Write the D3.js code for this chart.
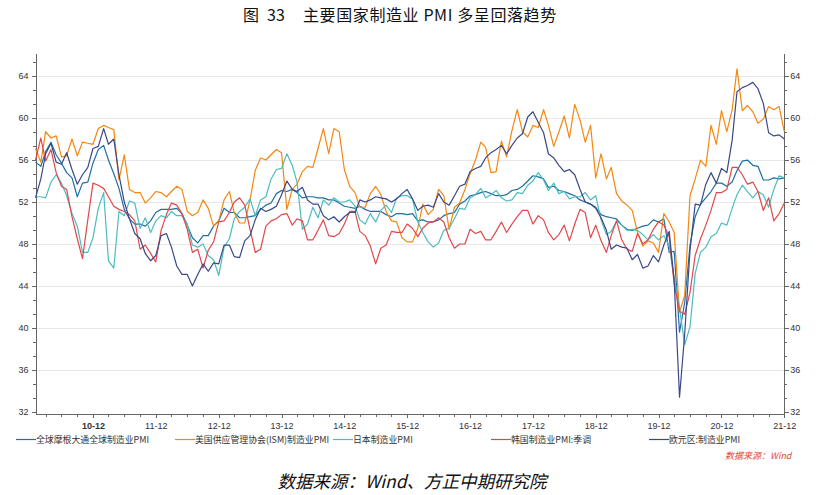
<!DOCTYPE html>
<html>
<head>
<meta charset="utf-8">
<script src="https://cdn.jsdelivr.net/npm/d3@7/dist/d3.min.js"></script>
<style>
body{margin:0;background:#fff;}
svg{display:block;font-family:"Noto Sans CJK SC","Noto Sans",sans-serif;}
.axis path,.axis line{stroke:#666;shape-rendering:crispEdges;}
.axis text{fill:#333;font-size:9px;}
</style>
</head>
<body>
<div id="chart"></div>
<script>
// 月度数据 2010-01 ~ 2021-12
var startMonth="2010-01", endMonth="2021-12";
var tickLabels=["10-12","11-12","12-12","13-12","14-12","15-12","16-12","17-12","18-12","19-12","20-12","21-12"];
var seriesNames=["全球摩根大通全球制造业PMI","美国供应管理协会(ISM)制造业PMI","日本制造业PMI","韩国制造业PMI:季调","欧元区:制造业PMI"];

var globalPMI=[
	55.8,55.4,56.8,57.7,56.5,55.7,54.8,54.3,52.5,53.8,53.9,55.7,
	57.0,57.4,56.0,54.7,53.3,51.3,50.4,49.9,49.9,49.7,50.2,51.0,
	51.3,51.3,51.3,51.4,50.9,49.8,48.6,48.1,48.8,48.8,49.7,50.2,
	51.4,51.0,51.0,50.5,50.5,50.6,50.7,51.3,51.7,51.9,52.8,53.1,
	53.0,53.2,52.9,52.4,52.5,52.5,52.4,52.4,52.2,52.2,51.9,51.6,
	51.5,51.4,51.6,51.3,51.1,51.1,51.1,50.8,50.6,50.9,50.9,50.8,
	50.9,50.2,50.3,50.1,50.1,50.3,50.7,50.9,51.0,51.8,52.1,52.6,
	52.7,52.9,53.0,52.8,52.6,52.6,52.7,53.1,53.2,53.5,54.0,54.5,
	54.4,54.2,53.4,53.5,53.1,53.0,52.8,52.6,52.2,52.0,51.8,51.5,
	50.8,50.6,50.5,50.4,49.8,49.4,49.3,49.5,49.7,49.8,50.3,50.1,
	50.4,47.2,47.3,39.6,42.4,47.9,50.6,51.8,52.4,53.0,53.8,53.8,
	53.5,53.9,55.0,55.9,56.0,55.5,55.4,54.1,54.1,54.3,54.2,54.3
];
var ismPMI=[
	57.1,55.8,58.7,58.1,58.3,56.3,56.4,58.0,56.4,57.7,57.6,57.5,
	59.0,59.3,59.1,58.9,54.1,56.5,53.2,52.9,52.9,51.9,52.4,53.0,
	52.9,52.5,53.0,53.5,53.2,51.1,50.7,51.0,52.2,51.4,49.7,50.2,
	52.2,53.0,51.0,50.0,50.0,52.2,55.0,56.2,56.0,56.5,57.0,56.7,
	51.3,53.2,53.7,54.9,55.4,55.3,57.1,59.0,56.6,59.0,58.7,55.1,
	53.5,52.9,51.5,51.5,52.8,53.5,52.7,51.1,50.2,50.1,48.6,48.2,
	48.2,49.5,51.8,50.8,51.3,53.2,52.6,49.4,51.5,51.9,53.2,54.7,
	56.0,57.7,57.2,54.8,54.9,57.8,56.3,58.8,60.8,58.7,58.2,59.3,
	59.1,60.8,59.3,57.3,58.7,60.2,58.1,61.3,59.8,57.7,59.3,54.3,
	56.6,54.2,55.3,52.8,52.1,51.7,51.2,49.1,47.8,48.3,48.1,47.2,
	50.9,50.1,49.1,41.5,43.1,52.6,54.2,56.0,55.4,59.3,57.5,60.7,
	58.7,60.8,64.7,60.7,61.2,60.6,59.5,59.9,61.1,60.8,61.1,58.7
];
var japanPMI=[
	52.5,52.5,52.4,53.9,54.6,53.8,52.6,50.9,49.7,47.2,47.2,48.6,
	51.4,52.9,46.4,45.7,51.1,50.7,52.1,51.9,49.5,50.5,49.1,50.2,
	50.7,50.5,51.1,50.7,50.7,49.9,47.9,47.7,48.0,46.9,46.5,45.0,
	47.7,48.5,50.4,51.1,51.5,52.3,50.7,52.2,52.5,54.2,55.1,55.2,
	56.6,55.5,53.9,49.4,49.9,51.5,50.5,52.2,51.7,52.4,52.0,52.0,
	52.2,51.6,50.3,49.9,50.9,50.1,51.2,51.7,51.0,52.4,52.6,52.6,
	52.3,50.1,49.1,48.2,47.7,48.1,49.3,49.5,50.4,51.4,51.3,52.4,
	52.7,53.3,52.4,52.7,53.1,52.4,52.1,52.2,52.9,52.8,53.6,54.0,
	54.8,54.1,53.1,53.8,52.8,53.0,52.3,52.5,52.5,52.9,52.2,52.6,
	50.3,48.9,49.2,50.2,49.8,49.3,49.4,49.3,48.9,48.4,48.9,48.4,
	48.8,47.8,44.8,41.9,38.4,40.1,45.2,47.2,47.7,48.7,49.0,50.0,
	49.8,51.4,52.7,53.6,53.0,52.4,53.0,52.7,51.5,53.2,54.5,54.3
];
var koreaPMI=[
	56.0,58.1,55.9,57.0,54.8,53.5,53.2,50.6,48.5,46.6,50.3,53.8,
	53.6,53.3,52.5,51.6,51.3,51.1,50.8,50.2,47.5,47.9,47.1,46.3,
	49.3,50.8,51.9,51.7,50.9,49.4,47.2,47.5,45.7,47.4,48.2,50.1,
	50.2,51.0,52.0,52.4,51.7,49.4,47.2,47.5,49.7,50.2,50.4,50.8,
	50.9,49.8,50.4,50.2,48.4,48.4,49.3,50.3,48.8,48.7,49.0,49.9,
	51.1,51.1,49.2,48.8,47.8,46.1,47.6,47.9,49.2,49.1,49.1,49.9,
	49.5,48.7,49.5,50.0,50.1,50.5,50.1,48.6,47.6,48.0,48.0,49.4,
	49.0,49.2,48.4,48.4,49.2,50.1,49.1,49.9,50.6,51.2,51.2,49.9,
	50.7,50.3,49.1,48.4,48.9,49.8,48.3,49.9,51.3,51.0,48.6,49.8,
	48.3,47.2,48.8,50.2,48.4,47.5,47.3,49.0,48.0,48.4,49.4,50.1,
	49.8,48.7,44.2,41.6,41.3,43.4,46.9,48.5,49.8,51.2,52.9,52.9,
	53.2,55.3,55.3,54.6,53.7,53.9,53.0,51.2,52.4,50.2,50.9,51.9
];
var euroPMI=[
	52.4,54.2,56.6,57.6,55.8,55.6,56.7,55.1,53.7,54.6,55.3,57.1,
	57.3,59.0,57.5,58.0,54.6,52.0,50.4,49.0,48.5,47.1,46.4,46.9,
	48.8,49.0,47.7,45.9,45.1,45.1,44.0,45.1,46.1,45.4,46.2,46.1,
	47.9,47.9,46.8,46.7,48.3,48.8,50.3,51.4,51.1,51.3,51.6,52.7,
	54.0,53.2,53.0,53.4,52.2,51.8,51.8,50.7,50.3,50.6,50.1,50.6,
	51.0,51.0,52.2,52.0,52.2,52.5,52.4,52.3,52.0,52.3,52.8,53.2,
	52.3,51.2,51.6,51.7,51.5,52.8,52.0,51.7,52.6,53.5,53.7,54.9,
	55.2,55.4,56.2,56.7,57.0,57.4,56.6,57.4,58.1,58.5,60.1,60.6,
	59.6,58.6,56.6,56.2,55.5,54.9,55.1,54.6,53.2,52.0,51.8,51.4,
	50.5,49.3,47.5,47.9,47.7,47.6,46.5,47.0,45.7,45.9,46.9,46.3,
	47.9,49.2,44.5,33.4,39.4,47.4,51.8,51.7,53.7,54.8,53.8,55.2,
	54.8,57.9,62.5,62.9,63.1,63.4,62.8,61.4,58.6,58.3,58.4,58.0
];
var seriesColors=["#1f6fa3","#f5870f","#4cbcbf","#e0474c","#3a4888"];

var width=824,height=495;
var plot={left:35.5,right:784.3,top:53,bottom:414};

var svg=d3.select("#chart").append("svg")
	.attr("width",width)
	.attr("height",height);

var parseMonth=d3.timeParse("%Y-%m");
var dates=d3.timeMonth.range(parseMonth(startMonth),d3.timeMonth.offset(parseMonth(endMonth),1));

var x=d3.scaleTime()
	.domain([dates[0],dates[dates.length-1]])
	.range([plot.left,plot.right]);
var y=d3.scaleLinear()
	.domain([31.8,66.2])
	.range([plot.bottom,plot.top]);

//标题
var title=svg.append("text").attr("y",21).attr("font-size","16px").attr("fill","#111");
title.append("tspan").attr("x",243).text("图");
title.append("tspan").attr("x",267).text("33");
title.append("tspan").attr("x",303).attr("letter-spacing","0.6px").text("主要国家制造业 PMI 多呈回落趋势");

//网格线
var majorTicks=d3.range(32,65,4);
var minorTicks=d3.range(0,26).map(function(k){return 32+k*4/3;}).filter(function(v){return v<=66.2;});
svg.append("g").selectAll("line")
	.data(majorTicks.filter(function(d){return d>32;}))
	.enter().append("line")
	.attr("x1",plot.left).attr("x2",plot.right)
	.attr("y1",function(d){return Math.round(y(d))+0.5;})
	.attr("y2",function(d){return Math.round(y(d))+0.5;})
	.attr("stroke","#e8e8e8");

//左右纵轴
svg.append("g").attr("class","axis")
	.attr("transform","translate("+plot.left+",0)")
	.call(d3.axisLeft(y).tickValues(minorTicks).tickSize(3).tickSizeOuter(0).tickFormat(""));
svg.append("g").attr("class","axis")
	.attr("transform","translate("+plot.left+",0)")
	.call(d3.axisLeft(y).tickValues(majorTicks).tickSize(4).tickSizeOuter(0).tickFormat(d3.format("d")));
svg.append("g").attr("class","axis")
	.attr("transform","translate("+plot.right+",0)")
	.call(d3.axisRight(y).tickValues(minorTicks).tickSize(3).tickSizeOuter(0).tickFormat(""));
svg.append("g").attr("class","axis axis-right")
	.attr("transform","translate("+plot.right+",0)")
	.call(d3.axisRight(y).tickValues(majorTicks).tickSize(5).tickSizeOuter(0).tickFormat(d3.format("d")));
svg.selectAll(".axis-right text").attr("fill","#3a3f5c").attr("x",6);

//横轴
var decDates=dates.filter(function(d){return d.getMonth()==11;});
var quarterDates=dates.filter(function(d){return d.getMonth()%3==2;});
svg.append("g").attr("class","axis")
	.attr("transform","translate(0,"+plot.bottom+")")
	.call(d3.axisBottom(x).tickValues(quarterDates).tickSize(3).tickSizeOuter(0).tickFormat(""));
var xAxis=svg.append("g").attr("class","axis")
	.attr("transform","translate(0,"+plot.bottom+")")
	.call(d3.axisBottom(x).tickValues(decDates).tickSize(4).tickSizeOuter(0)
		.tickFormat(function(d,i){return tickLabels[i];}));
xAxis.selectAll("text").attr("dy","0.9em");
xAxis.selectAll("text").filter(function(d,i){return i==0;}).attr("font-weight","bold");

//折线
var allSeries=[globalPMI,ismPMI,japanPMI,koreaPMI,euroPMI];
var line=d3.line()
	.x(function(d,i){return x(dates[i]);})
	.y(function(d){return y(d);});
svg.append("g").selectAll("path")
	.data(allSeries)
	.enter().append("path")
	.attr("d",line)
	.attr("fill","none")
	.attr("stroke",function(d,i){return seriesColors[i];})
	.attr("stroke-width",1.2)
	.attr("stroke-linejoin","round");

//图例
var legendX=[16,175,333,491,649];
var legend=svg.append("g").attr("font-size","8.9px");
seriesNames.forEach(function(name,i){
	legend.append("line")
		.attr("x1",legendX[i]).attr("x2",legendX[i]+20)
		.attr("y1",439.5).attr("y2",439.5)
		.attr("stroke",seriesColors[i]).attr("stroke-width",1.2);
	legend.append("text")
		.attr("x",legendX[i]+20).attr("y",442.5)
		.attr("fill","#333")
		.text(name);
});

svg.append("text")
	.attr("x",725).attr("y",459)
	.attr("font-size","9px").attr("font-style","italic")
	.attr("fill","#e8443a")
	.text("数据来源：Wind");

//底部来源
svg.append("text")
	.attr("x",412).attr("y",488)
	.attr("text-anchor","middle")
	.attr("font-size","17.5px").attr("font-style","italic")
	.attr("fill","#111")
	.text("数据来源：Wind、方正中期研究院");
</script>
</body>
</html>
